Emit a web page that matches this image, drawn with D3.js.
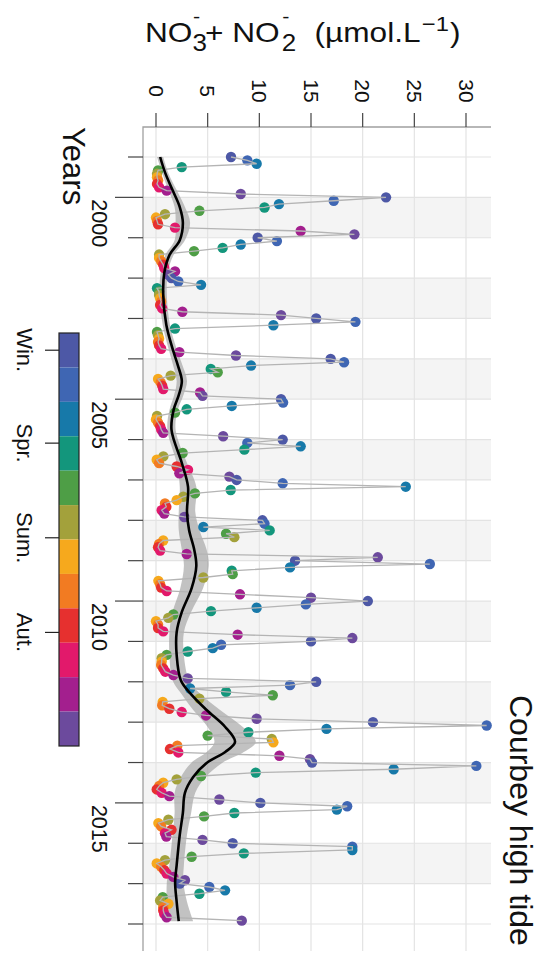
<!DOCTYPE html>
<html>
<head>
<meta charset="utf-8">
<script src="https://cdn.jsdelivr.net/npm/d3@7"></script>
<style>
  html, body { margin: 0; padding: 0; background: #fff; }
  svg { display: block; font-family: "Liberation Sans", Arial, Helvetica, sans-serif; }
</style>
</head>
<body>
<svg id="chart" width="544" height="954"></svg>
<script>
// Monthly NO3- + NO2- concentrations (µmol/L), Jan..Dec, Courbey at high tide
const no3_1999 = [7.26, 8.84, 9.74, 2.49, 0.2, 0.1, 0.1, 0.2, 0.1, 0.3, 1.03, 8.2];
const no3_2000 = [22.26, 17.2, 11.9, 10.5, 4.2, 0.87, 0.0, 0.1, 0.2, 1.84, 14.0, 19.2];
const no3_2001 = [9.84, 11.7, 8.2, 6.45, 3.68, 0.3, 0.3, 0.5, 0.7, 0.8, 1.84, 1.2];
const no3_2002 = [1.5, 2.16, 4.36, 0.1, 0.3, 0.3, 0.4, 0.5, 0.4, 0.6, 2.55, 12.1];
const no3_2003 = [15.5, 19.3, 11.36, 1.84, 0.1, 0.2, 0.3, 0.2, 0.3, 0.5, 2.26, 7.74];
const no3_2004 = [16.9, 18.2, 9.2, 5.3, 5.97, 1.42, 0.2, 0.45, 0.6, 0.7, 4.26, 4.5];
const no3_2005 = [12.1, 12.3, 7.33, 2.97, 1.84, 0.1, 0.0, 0.2, 0.4, 0.5, 0.7, 6.5];
const no3_2006 = [12.26, 8.84, 14.0, 8.55, 2.58, 0.71, 0.07, 0.3, 2.0, 3.1, 2.26, 7.1];
const no3_2007 = [7.8, 12.26, 24.17, 7.23, 3.77, 2.64, 2.0, 0.87, 1.0, 0.55, 0.8, 2.74];
const no3_2008 = [10.3, 10.5, 4.58, 11.0, 6.78, 7.58, 0.7, 0.3, 0.2, 0.4, 2.97, 21.46];
const no3_2009 = [13.46, 26.5, 12.97, 7.33, 7.42, 4.58, 0.23, 0.4, 0.5, 1.03, 8.13, 15.0];
const no3_2010 = [20.5, 14.5, 9.74, 5.32, 1.68, 1.19, 0.0, 0.2, 0.2, 0.7, 7.9, 19.0];
const no3_2011 = [15.0, 6.3, 5.49, 3.07, 1.03, 0.55, 0.55, 0.5, 0.7, 0.9, 1.68, 3.07];
const no3_2012 = [15.5, 12.97, 3.3, 6.78, 11.3, 4.2, 0.65, 0.6, 1.29, 2.49, 4.84, 9.74];
const no3_2013 = [21.0, 32.0, 16.5, 8.94, 5.0, 11.2, 11.36, 2.06, 1.35, 2.16, 11.94, 14.9];
const no3_2014 = [15.1, 31.0, 23.0, 9.65, 4.36, 2.0, 0.7, 0.3, 0.07, 0.55, 1.29, 6.13];
const no3_2015 = [10.1, 18.5, 17.5, 7.58, 4.65, 1.2, 0.23, 0.5, 1.5, 0.87, 1.0, 4.5];
const no3_2016 = [7.42, 19.0, 19.0, 8.5, 3.45, 0.87, 0.07, 0.5, 0.8, 1.03, 1.68, 2.8];
const no3_2017 = [2.3, 5.16, 6.68, 4.2, 0.65, 0.4, 1.2, 0.7, 0.7, 0.8, 1.03, 8.3];

const sampleYears = [1999, 2000, 2001, 2002, 2003, 2004, 2005, 2006, 2007, 2008,
                     2009, 2010, 2011, 2012, 2013, 2014, 2015, 2016, 2017];
const monthlySeries = [no3_1999, no3_2000, no3_2001, no3_2002, no3_2003, no3_2004, no3_2005,
                       no3_2006, no3_2007, no3_2008, no3_2009, no3_2010, no3_2011, no3_2012,
                       no3_2013, no3_2014, no3_2015, no3_2016, no3_2017];

// Month colour palette (Jan..Dec)
const monthColors = ["#4d58a6", "#3f66b3", "#1779a9", "#13967c", "#4e9e46", "#a3a13b",
                     "#f6a91d", "#f27b22", "#e6302f", "#e2196b", "#a31f8e", "#6c4a9d"];

// Smoothed trend (decimal year, fitted value, half-width of the confidence band)
const smoothDate = [1999.0, 1999.4, 1999.82, 2000.24, 2000.63, 2001.06, 2001.43, 2001.87, 2002.42,
                    2003.16, 2003.83, 2004.15, 2004.55, 2004.9, 2005.27, 2005.76, 2006.58, 2007.17,
                    2007.79, 2008.24, 2008.73, 2009.13, 2009.68, 2010.27, 2010.77, 2011.34, 2011.96,
                    2012.28, 2012.7, 2013.12, 2013.49, 2013.74, 2014.01, 2014.36, 2014.75, 2015.25,
                    2015.79, 2016.54, 2016.96, 2017.45, 2017.93];
const smoothFit = [0.4, 0.9, 1.6, 2.3, 2.6, 2.3, 1.3, 0.8, 0.7,
                   1.0, 1.7, 2.1, 2.5, 2.2, 1.7, 1.5, 2.5, 3.1,
                   3.0, 3.2, 3.7, 3.9, 3.45, 2.5, 2.0, 2.0, 2.4,
                   3.3, 4.9, 6.7, 7.65, 6.7, 4.9, 3.6, 2.8, 2.6,
                   2.3, 2.0, 1.85, 2.0, 2.2];
const smoothBand = [0.3, 0.3, 0.4, 0.5, 0.7, 0.5, 0.4, 0.35, 0.35,
                    0.35, 0.4, 0.45, 0.5, 0.45, 0.4, 0.4, 0.5, 0.8,
                    0.8, 1.0, 1.2, 1.2, 1.1, 0.9, 0.7, 0.7, 0.8,
                    0.9, 1.3, 1.7, 2.0, 1.8, 1.5, 1.2, 1.0, 0.8,
                    0.7, 0.7, 0.8, 1.0, 1.4];

const valueTicks = [0, 5, 10, 15, 20, 25, 30];
const yearTicks = d3.range(1999, 2019);
const yearLabels = [2000, 2005, 2010, 2015];
const seasonLabels = ["Win.", "Spr.", "Sum.", "Aut."];
const seasonTicks = [0.5, 3.2, 5.95, 8.7];   // position along the month colour bar (0..12)

// ---------------------------------------------------------------
const svg = d3.select("#chart");

const panel = { left: 143, top: 127, right: 491, bottom: 951 };

// value axis runs left→right, time axis top→bottom
const x = d3.scaleLinear().domain([0, 30]).range([156, 466]);
const y = d3.scaleLinear().domain([1999, 2018]).range([157, 924]);

const points = [];
sampleYears.forEach((yr, i) => {
  monthlySeries[i].forEach((v, m) => {
    points.push({ date: yr + m / 12, value: v, month: m });
  });
});

// panel background and alternating year bands
svg.append("rect")
  .attr("x", panel.left).attr("y", panel.top)
  .attr("width", panel.right - panel.left).attr("height", panel.bottom - panel.top)
  .attr("fill", "#fff");

svg.append("g").selectAll("rect")
  .data(yearTicks.filter(yr => yr % 2 === 0 && yr < 2018))
  .join("rect")
  .attr("x", panel.left)
  .attr("y", d => y(d))
  .attr("width", panel.right - panel.left)
  .attr("height", d => y(d + 1) - y(d))
  .attr("fill", "#f4f4f4");

// grid lines
svg.append("g").selectAll("line")
  .data(valueTicks)
  .join("line")
  .attr("x1", d => x(d)).attr("x2", d => x(d))
  .attr("y1", panel.top).attr("y2", panel.bottom)
  .attr("stroke", "#e3e3e3").attr("stroke-width", 1.2);

svg.append("g").selectAll("line")
  .data(yearTicks)
  .join("line")
  .attr("x1", panel.left).attr("x2", panel.right)
  .attr("y1", d => y(d)).attr("y2", d => y(d))
  .attr("stroke", "#e3e3e3").attr("stroke-width", 1.2);

// confidence band of the trend
const band = d3.area()
  .y(d => y(d.date))
  .x0(d => x(d.fit - d.se))
  .x1(d => x(d.fit + d.se))
  .curve(d3.curveCatmullRom.alpha(0.5));

const trend = smoothDate.map((d, i) => ({ date: d, fit: smoothFit[i], se: smoothBand[i] }));

svg.append("path")
  .datum(trend)
  .attr("d", band)
  .attr("fill", "#9a9a9a")
  .attr("fill-opacity", 0.6);

// points coloured by month
svg.append("g").selectAll("circle")
  .data(points)
  .join("circle")
  .attr("cx", d => x(d.value))
  .attr("cy", d => y(d.date))
  .attr("r", 5.2)
  .attr("fill", d => monthColors[d.month]);

// connecting line through the time series
const link = d3.line().x(d => x(d.value)).y(d => y(d.date));
svg.append("path")
  .datum(points)
  .attr("d", link)
  .attr("fill", "none")
  .attr("stroke", "#b4b4b4")
  .attr("stroke-width", 1.3);

// trend line
const trendLine = d3.line()
  .y(d => y(d.date))
  .x(d => x(d.fit))
  .curve(d3.curveCatmullRom.alpha(0.5));
svg.append("path")
  .datum(trend)
  .attr("d", trendLine)
  .attr("fill", "none")
  .attr("stroke", "#000")
  .attr("stroke-width", 2.6);

// panel border
svg.append("path")
  .attr("d", `M${panel.right},${panel.top}H${panel.left}V${panel.bottom}`)
  .attr("fill", "none").attr("stroke", "#a0a0a0").attr("stroke-width", 1.3);

// value axis (top)
const topAxis = svg.append("g");
topAxis.selectAll("line")
  .data(valueTicks)
  .join("line")
  .attr("x1", d => x(d)).attr("x2", d => x(d))
  .attr("y1", panel.top - 14).attr("y2", panel.top)
  .attr("stroke", "#444").attr("stroke-width", 1.2);
topAxis.selectAll("text")
  .data(valueTicks)
  .join("text")
  .attr("transform", d => `translate(${x(d)},${91}) rotate(90)`)
  .attr("text-anchor", "middle")
  .attr("dy", "0.35em")
  .attr("font-size", 21)
  .attr("fill", "#111")
  .text(d => d);

// time axis (left)
const leftAxis = svg.append("g");
leftAxis.selectAll("line")
  .data(yearTicks)
  .join("line")
  .attr("x1", d => yearLabels.includes(d) ? 115 : 128)
  .attr("x2", panel.left)
  .attr("y1", d => y(d)).attr("y2", d => y(d))
  .attr("stroke", "#444").attr("stroke-width", 1.2);
leftAxis.selectAll("text")
  .data(yearLabels)
  .join("text")
  .attr("transform", d => `translate(${92},${y(d) + 2}) rotate(90)`)
  .attr("text-anchor", "start")
  .attr("font-size", 21.5)
  .attr("fill", "#111")
  .text(d => d);

svg.append("text")
  .attr("transform", "translate(63,127) rotate(90)")
  .attr("font-size", 31)
  .attr("fill", "#111")
  .text("Years");

// title on the right
svg.append("text")
  .attr("transform", "translate(510,695) rotate(90)")
  .attr("font-size", 32)
  .attr("fill", "#111")
  .text("Courbey high tide");

// value-axis title: NO3- + NO2- (µmol.L-1) with stacked sub/superscripts
const title = svg.append("g")
  .attr("transform", "translate(145,0) scale(1.13,1)")
  .attr("fill", "#111");
const titleParts = [
  { t: "NO",       x: 0,     y: 42, fs: 28 },
  { t: "3",        x: 42,    y: 51, fs: 23 },
  { t: "-",        x: 42.5,  y: 23, fs: 19 },
  { t: "+ NO",     x: 53,    y: 42, fs: 28 },
  { t: "2",        x: 121,   y: 51, fs: 23 },
  { t: "-",        x: 121.5, y: 23, fs: 19 },
  { t: "(µmol.L",  x: 150,   y: 42, fs: 28 },
  { t: "\u22121",  x: 245,   y: 31, fs: 21 },
  { t: ")",        x: 270,   y: 42, fs: 28 }
];
title.selectAll("text")
  .data(titleParts)
  .join("text")
  .attr("x", d => d.x).attr("y", d => d.y)
  .attr("font-size", d => d.fs)
  .text(d => d.t);

// month colour bar
const bar = { x: 59, y: 333, w: 20, h: 413 };
const barScale = d3.scaleLinear().domain([0, 12]).range([bar.y, bar.y + bar.h]);
svg.append("g").selectAll("rect")
  .data(monthColors)
  .join("rect")
  .attr("x", bar.x)
  .attr("y", (d, i) => barScale(i))
  .attr("width", bar.w)
  .attr("height", (d, i) => barScale(i + 1) - barScale(i))
  .attr("fill", d => d);
svg.append("rect")
  .attr("x", bar.x).attr("y", bar.y).attr("width", bar.w).attr("height", bar.h)
  .attr("fill", "none").attr("stroke", "#222").attr("stroke-width", 1.2);
svg.append("g").selectAll("line")
  .data(seasonTicks)
  .join("line")
  .attr("x1", 45).attr("x2", bar.x)
  .attr("y1", d => barScale(d)).attr("y2", d => barScale(d))
  .attr("stroke", "#222").attr("stroke-width", 1.2);
svg.append("g").selectAll("text")
  .data(seasonLabels)
  .join("text")
  .attr("transform", (d, i) => `translate(${25},${barScale(seasonTicks[i])}) rotate(90)`)
  .attr("text-anchor", "middle")
  .attr("dy", "0.35em")
  .attr("font-size", 22)
  .attr("fill", "#111")
  .text(d => d);
</script>
</body>
</html>
